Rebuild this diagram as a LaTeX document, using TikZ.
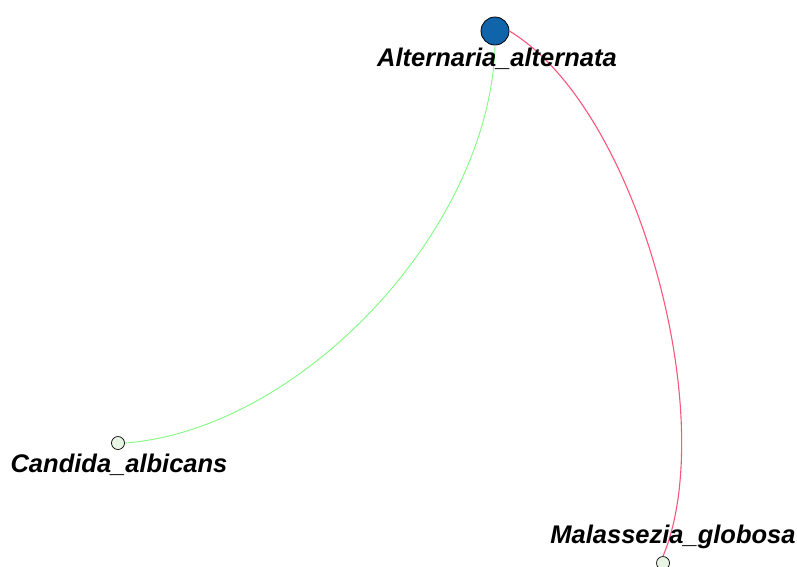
\documentclass[tikz,border=0pt]{standalone}
\usepackage{fontspec}
\setmainfont{Liberation Sans}
\begin{document}
\begin{tikzpicture}[x=1pt,y=-1pt,
  lbl/.style={font=\fontsize{25.5}{28}\selectfont\bfseries\itshape, inner sep=0pt, anchor=center},
  hub/.style={circle, draw=black, fill=hubblue, minimum size=28pt, inner sep=0pt, line width=0.8pt},
  leaf/.style={circle, draw=black, fill=leafgreen, minimum size=13pt, inner sep=0pt, line width=0.7pt},
  gedge/.style={draw=edgegreen, line width=0.9pt},
  redge/.style={draw=edgered, line width=1.1pt}]
\definecolor{hubblue}{RGB}{16,100,170}
\definecolor{leafgreen}{RGB}{232,245,228}
\definecolor{edgegreen}{RGB}{128,250,128}
\definecolor{edgered}{RGB}{250,85,125}
\useasboundingbox (0,0) rectangle (797,566);
\node[hub] (alt) at (495,31) {};
\node[leaf] (can) at (118,443) {};
\node[leaf] (mal) at (663,563) {};
\draw[gedge] (alt.south) .. controls (490,230) and (300,430) .. (can.east);
\draw[redge] (alt.east) .. controls (640,110) and (720,420) .. (mal.north);
\node[lbl] (altl) at (497,59) {Alternaria\_alternata};
\node[lbl] (canl) at (119,465) {Candida\_albicans};
\node[lbl] (mall) at (673,537) {Malassezia\_globosa};
\end{tikzpicture}
\end{document}
